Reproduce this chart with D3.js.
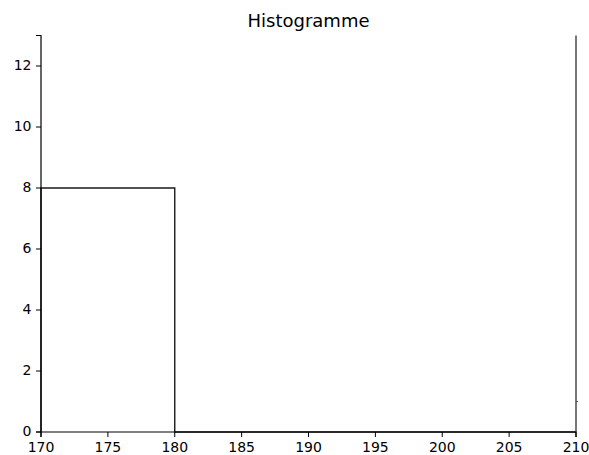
<!DOCTYPE html>
<html><head><meta charset="utf-8">
<script src="https://cdn.jsdelivr.net/npm/d3@7"></script>
<style>body{margin:0;background:#fff}svg{display:block}</style>
</head><body>
<svg id="c" width="589" height="455"></svg>
<script>
const title = "Histogramme";
const binEdges = [170, 180, 210];
const counts = [8, 0];
const spikeX = 210;
const spikeMarkY = 1;
const xTicks = [170, 175, 180, 185, 190, 195, 200, 205, 210];
const yTicks = [0, 2, 4, 6, 8, 10, 12];

const svg = d3.select("#c");
const x = d3.scaleLinear().domain([170, 210]).range([41, 576]);
const y = d3.scaleLinear().domain([0, 13]).range([432, 35.5]);
const font = "DejaVu Sans, sans-serif";

svg.append("text").attr("x", 308.5).attr("y", 27).attr("text-anchor", "middle")
  .attr("font-family", font).attr("font-size", 18).attr("fill", "#000").text(title);

// step outline of the histogram
const pts = [[binEdges[0], 0]];
counts.forEach((c, i) => { pts.push([binEdges[i], c]); pts.push([binEdges[i + 1], c]); });
pts.push([binEdges[binEdges.length - 1], 0]);
svg.append("path").attr("d", d3.line().x(d => x(d[0])).y(d => y(d[1]))(pts))
  .attr("fill", "none").attr("stroke", "#1a1a1a").attr("stroke-width", 1.4);

// spike at right edge (clipped at top)
svg.append("line").attr("x1", x(spikeX)).attr("x2", x(spikeX))
  .attr("y1", y(0)).attr("y2", y(13)).attr("stroke", "#555").attr("stroke-width", 1.6);
svg.append("line").attr("x1", x(spikeX)).attr("x2", x(spikeX) + 2)
  .attr("y1", y(spikeMarkY)).attr("y2", y(spikeMarkY)).attr("stroke", "#555").attr("stroke-width", 1);

const gx = svg.append("g").attr("transform", `translate(0,${y(0)})`)
  .call(d3.axisBottom(x).tickValues(xTicks).tickSize(5).tickPadding(5.5).offset(0));
const gy = svg.append("g").attr("transform", `translate(${x(170)},0)`)
  .call(d3.axisLeft(y).tickValues(yTicks).tickSize(5).tickPadding(4.5).offset(0));
[gx, gy].forEach(g => {
  g.attr("font-size", 14).attr("font-family", font);
  g.selectAll("text").attr("font-family", font).attr("font-size", 14).attr("fill", "#000");
  g.selectAll("line").attr("stroke", "#000").attr("stroke-width", 1);
  g.select(".domain").attr("stroke", "#000").attr("stroke-width", 1.2);
});
</script>
</body></html>
